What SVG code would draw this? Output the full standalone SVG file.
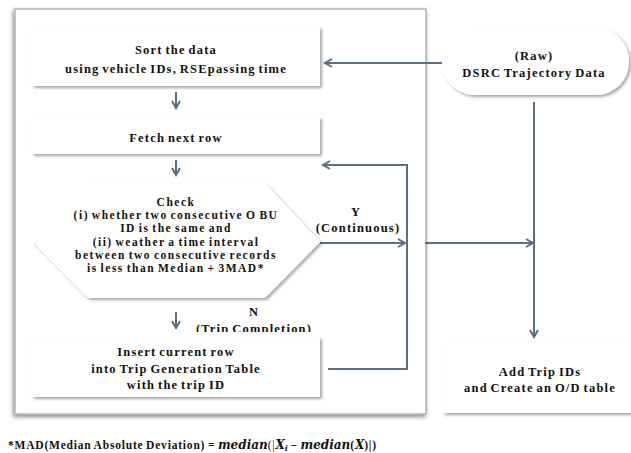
<svg xmlns="http://www.w3.org/2000/svg" width="631" height="453" viewBox="0 0 631 453">
<defs>
<style>
.t{font-family:"Liberation Serif","Times New Roman",serif;font-weight:bold;font-size:12.5px;fill:#111;text-anchor:middle;letter-spacing:1.2px;word-spacing:-1.5px}
.h{font-size:11.5px;letter-spacing:1.5px}
.f{font-family:"Liberation Serif","Times New Roman",serif;font-weight:bold;font-size:11.5px;fill:#111;letter-spacing:0.8px;word-spacing:-1px}
.m{font-family:"DejaVu Serif","Liberation Serif",serif;font-style:italic;font-weight:bold;font-size:12px;fill:#111}
.c{fill:none;stroke:#5b6e82;stroke-width:2}
.box{fill:#fff;filter:url(#sh)}
</style>
<filter id="sh" x="-10%" y="-20%" width="125%" height="150%">
<feDropShadow dx="2" dy="2" stdDeviation="1.5" flood-color="#000" flood-opacity="0.35"/>
</filter>
<filter id="osh" x="-5%" y="-5%" width="110%" height="110%">
<feDropShadow dx="-1" dy="2" stdDeviation="2" flood-color="#000" flood-opacity="0.5"/>
</filter>
<marker id="ah" markerWidth="10" markerHeight="10" refX="8" refY="5" orient="auto" markerUnits="userSpaceOnUse">
<path d="M1,1 L8,5 L1,9" fill="none" stroke="#5b6e82" stroke-width="2"/>
</marker>
<clipPath id="clipN"><rect x="190" y="300" width="140" height="32"/></clipPath>
</defs>
<rect width="631" height="453" fill="#fff"/>
<g id="frame">
<rect x="15" y="9" width="411" height="405" fill="#fff" stroke="#b5b5b5" stroke-width="1.5" filter="url(#osh)"/>
</g>
<g id="connectors">
<line class="c" x1="176" y1="92" x2="176" y2="108" marker-end="url(#ah)"/>
<line class="c" x1="176" y1="160" x2="176" y2="175" marker-end="url(#ah)"/>
<line class="c" x1="176" y1="312" x2="176" y2="328" marker-end="url(#ah)"/>
<line class="c" x1="320" y1="243" x2="405" y2="243" marker-end="url(#ah)"/>
<polyline class="c" points="328,369 407,369 407,165 323,165" marker-end="url(#ah)"/>
<line class="c" x1="442" y1="63" x2="325" y2="63" marker-end="url(#ah)"/>
<line class="c" x1="425" y1="243" x2="533" y2="243" marker-end="url(#ah)"/>
<line class="c" x1="534" y1="102" x2="534" y2="337" marker-end="url(#ah)"/>
</g>
<g id="sort">
<rect class="box" x="32" y="27" width="288" height="59"/>
<text class="t" x="176" y="54">Sort the data</text>
<text class="t" x="176" y="73">using vehicle IDs, RSEpassing time</text>
</g>
<g id="fetch">
<rect class="box" x="32" y="117" width="288" height="37"/>
<text class="t" x="176" y="142">Fetch next row</text>
</g>
<g id="check">
<polygon class="box" points="88,183 265,183 320,242 265,298 88,298 33,242"/>
<text class="t h" x="176" y="206">Check</text>
<text class="t h" x="176" y="219">(i) whether two consecutive O BU</text>
<text class="t h" x="176" y="232">ID is the same and</text>
<text class="t h" x="176" y="246">(ii) weather a time interval</text>
<text class="t h" x="176" y="259">between two consecutive records</text>
<text class="t h" x="176" y="272">is less than Median + 3MAD*</text>
</g>
<g id="labelY">
<text class="t" x="356" y="216">Y</text>
<text class="t" x="358" y="232">(Continuous)</text>
</g>
<g id="labelN" clip-path="url(#clipN)">
<text class="t" x="254" y="316">N</text>
<text class="t" x="254" y="333">(Trip Completion)</text>
</g>
<g id="insert">
<rect class="box" x="32" y="337" width="288" height="60"/>
<text class="t" x="176" y="356">Insert current row</text>
<text class="t" x="176" y="373">into Trip Generation Table</text>
<text class="t" x="176" y="389">with the trip ID</text>
</g>
<g id="raw">
<rect class="box" x="442" y="28" width="187" height="67" rx="33" ry="33"/>
<text class="t" x="534" y="60">(Raw)</text>
<text class="t" x="534" y="77">DSRC Trajectory Data</text>
</g>
<g id="add">
<rect class="box" x="443" y="342" width="188" height="71"/>
<text class="t" x="540" y="376">Add Trip IDs</text>
<text class="t" x="540" y="392">and Create an O/D table</text>
</g>
<g id="footnote">
<text x="8" y="449"><tspan class="f">*MAD(Median Absolute Deviation) = </tspan><tspan class="m">median</tspan><tspan class="f" style="font-weight:normal">(|</tspan><tspan class="m">X<tspan font-size="8" dy="2">i</tspan></tspan><tspan class="f" dy="-2"> − </tspan><tspan class="m">median</tspan><tspan class="f">(</tspan><tspan class="m">X</tspan><tspan class="f">)|)</tspan></text>
</g>
</svg>
